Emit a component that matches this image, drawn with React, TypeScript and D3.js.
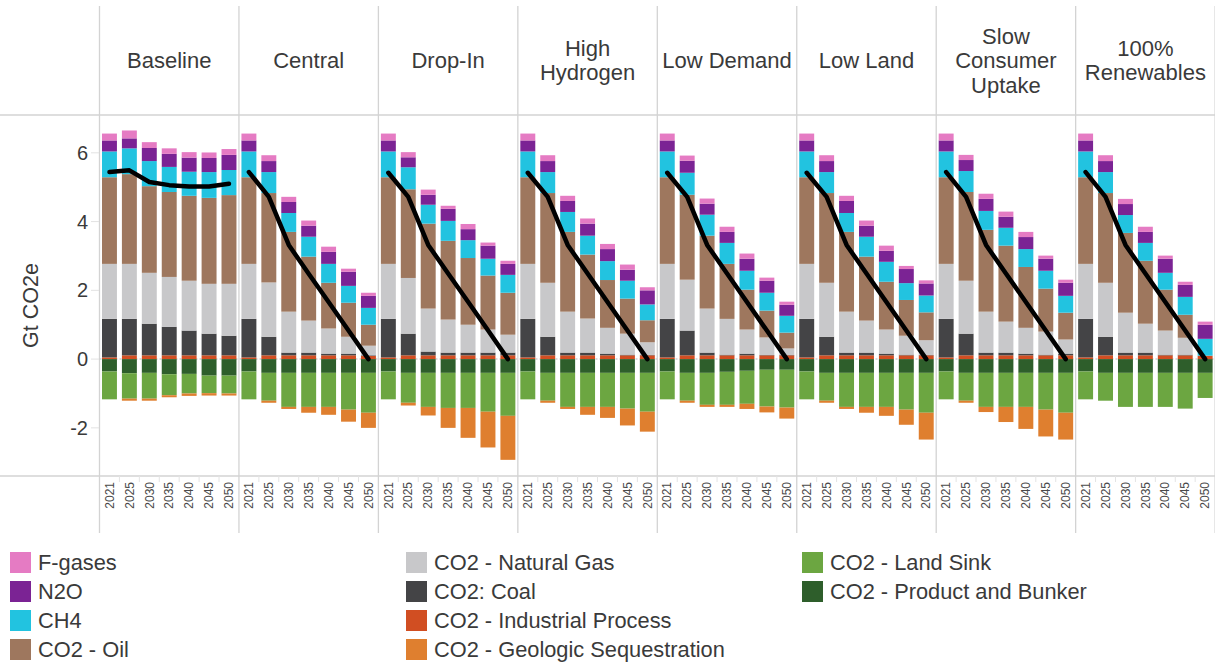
import React from "react";
import * as d3 from "d3";

// ---------- DATA ----------
const scenarios = [
  "Baseline",
  "Central",
  "Drop-In",
  "High Hydrogen",
  "Low Demand",
  "Low Land",
  "Slow Consumer Uptake",
  "100% Renewables",
];
const scenarioHeaderLines = [
  ["Baseline"],
  ["Central"],
  ["Drop-In"],
  ["High", "Hydrogen"],
  ["Low Demand"],
  ["Low Land"],
  ["Slow", "Consumer", "Uptake"],
  ["100%", "Renewables"],
];
const years = ["2021", "2025", "2030", "2035", "2040", "2045", "2050"];
const yTicks = [-2, 0, 2, 4, 6];

// rows = scenarios (in order above), columns = years
const fGases = [
  [0.2, 0.23, 0.17, 0.16, 0.16, 0.16, 0.17],
  [0.2, 0.17, 0.15, 0.15, 0.15, 0.09, 0.09],
  [0.2, 0.15, 0.15, 0.09, 0.15, 0.09, 0.09],
  [0.2, 0.17, 0.15, 0.15, 0.15, 0.15, 0.09],
  [0.2, 0.15, 0.15, 0.15, 0.15, 0.09, 0.09],
  [0.2, 0.17, 0.15, 0.15, 0.15, 0.09, 0.09],
  [0.2, 0.15, 0.15, 0.15, 0.15, 0.09, 0.09],
  [0.2, 0.17, 0.15, 0.15, 0.09, 0.09, 0.09],
];
const n2o = [
  [0.32, 0.29, 0.38, 0.38, 0.41, 0.41, 0.44],
  [0.32, 0.32, 0.32, 0.32, 0.35, 0.41, 0.35],
  [0.32, 0.29, 0.29, 0.35, 0.32, 0.38, 0.32],
  [0.32, 0.32, 0.32, 0.35, 0.35, 0.32, 0.41],
  [0.32, 0.35, 0.32, 0.32, 0.35, 0.35, 0.32],
  [0.32, 0.32, 0.35, 0.32, 0.32, 0.41, 0.35],
  [0.32, 0.32, 0.35, 0.32, 0.35, 0.35, 0.38],
  [0.32, 0.32, 0.32, 0.32, 0.41, 0.35, 0.41],
];
const ch4 = [
  [0.75, 0.75, 0.73, 0.73, 0.7, 0.75, 0.73],
  [0.75, 0.61, 0.55, 0.58, 0.55, 0.49, 0.49],
  [0.75, 0.64, 0.55, 0.58, 0.52, 0.49, 0.52],
  [0.75, 0.61, 0.58, 0.55, 0.55, 0.52, 0.46],
  [0.75, 0.64, 0.61, 0.61, 0.55, 0.52, 0.49],
  [0.75, 0.61, 0.55, 0.58, 0.58, 0.49, 0.49],
  [0.75, 0.61, 0.55, 0.52, 0.52, 0.52, 0.49],
  [0.75, 0.61, 0.52, 0.52, 0.49, 0.52, 0.49],
];
const co2Oil = [
  [2.52, 2.61, 2.52, 2.47, 2.47, 2.5, 2.58],
  [2.52, 2.6, 2.32, 1.86, 1.33, 0.99, 0.61],
  [2.52, 2.58, 2.47, 2.29, 1.94, 1.57, 1.22],
  [2.52, 2.61, 2.32, 1.86, 1.39, 1.02, 0.64],
  [2.52, 2.47, 2.12, 1.6, 1.16, 0.78, 0.46],
  [2.52, 2.61, 2.32, 1.86, 1.39, 1.04, 0.81],
  [2.52, 2.58, 2.38, 2.21, 1.77, 1.25, 0.78],
  [2.52, 2.61, 2.32, 1.83, 1.19, 0.67, 0.0],
];
const co2Gas = [
  [1.6, 1.6, 1.48, 1.45, 1.45, 1.45, 1.51],
  [1.6, 1.58, 1.19, 0.93, 0.73, 0.49, 0.28],
  [1.6, 1.62, 1.25, 0.96, 0.81, 0.67, 0.52],
  [1.6, 1.57, 1.19, 0.99, 0.75, 0.61, 0.37],
  [1.6, 1.48, 1.28, 1.04, 0.7, 0.51, 0.19],
  [1.6, 1.57, 1.19, 0.93, 0.7, 0.55, 0.43],
  [1.6, 1.54, 1.19, 0.9, 0.75, 0.67, 0.41],
  [1.6, 1.57, 1.16, 0.84, 0.7, 0.49, 0.0],
];
const co2Coal = [
  [1.12, 1.06, 0.92, 0.83, 0.72, 0.63, 0.57],
  [1.12, 0.54, 0.08, 0.08, 0.05, 0.05, 0.02],
  [1.12, 0.63, 0.11, 0.08, 0.08, 0.08, 0.08],
  [1.12, 0.54, 0.08, 0.08, 0.05, 0.02, 0.01],
  [1.12, 0.72, 0.08, 0.02, 0.05, 0.01, 0.01],
  [1.12, 0.54, 0.08, 0.08, 0.05, 0.02, 0.01],
  [1.12, 0.63, 0.08, 0.08, 0.05, 0.02, 0.05],
  [1.12, 0.54, 0.08, 0.08, 0.02, 0.02, 0.0],
];
const co2Industrial = [
  [0.05, 0.11, 0.11, 0.11, 0.11, 0.11, 0.11],
  [0.05, 0.11, 0.11, 0.11, 0.11, 0.11, 0.09],
  [0.05, 0.11, 0.11, 0.11, 0.11, 0.11, 0.11],
  [0.05, 0.11, 0.11, 0.11, 0.11, 0.11, 0.11],
  [0.05, 0.11, 0.11, 0.11, 0.11, 0.11, 0.11],
  [0.05, 0.11, 0.11, 0.11, 0.11, 0.11, 0.11],
  [0.05, 0.11, 0.11, 0.11, 0.11, 0.11, 0.11],
  [0.05, 0.11, 0.11, 0.11, 0.11, 0.11, 0.1],
];
const co2ProductBunker = [
  [-0.36, -0.41, -0.4, -0.44, -0.43, -0.48, -0.48],
  [-0.36, -0.4, -0.4, -0.4, -0.4, -0.4, -0.4],
  [-0.36, -0.4, -0.4, -0.4, -0.4, -0.4, -0.4],
  [-0.36, -0.4, -0.4, -0.4, -0.4, -0.4, -0.4],
  [-0.36, -0.4, -0.4, -0.37, -0.34, -0.31, -0.31],
  [-0.36, -0.4, -0.4, -0.4, -0.4, -0.4, -0.4],
  [-0.36, -0.4, -0.4, -0.4, -0.4, -0.4, -0.4],
  [-0.36, -0.4, -0.4, -0.4, -0.4, -0.4, -0.4],
];
const co2LandSink = [
  [-0.81, -0.74, -0.75, -0.61, -0.57, -0.51, -0.52],
  [-0.81, -0.81, -0.99, -0.99, -0.99, -1.07, -1.16],
  [-0.81, -0.87, -0.99, -1.02, -1.02, -1.13, -1.25],
  [-0.81, -0.81, -0.99, -0.99, -0.99, -1.04, -1.13],
  [-0.81, -0.81, -0.93, -0.96, -0.96, -1.07, -1.1],
  [-0.81, -0.81, -0.99, -0.99, -0.99, -1.07, -1.16],
  [-0.81, -0.81, -0.99, -0.99, -0.99, -1.07, -1.16],
  [-0.81, -0.81, -0.99, -0.99, -0.99, -1.04, -0.73],
];
const co2GeoSeq = [
  [0, -0.06, -0.06, -0.06, -0.07, -0.07, -0.06],
  [0, -0.06, -0.06, -0.17, -0.23, -0.35, -0.44],
  [0, -0.08, -0.25, -0.58, -0.87, -1.04, -1.28],
  [0, -0.06, -0.06, -0.23, -0.32, -0.49, -0.58],
  [0, -0.06, -0.06, -0.06, -0.15, -0.17, -0.32],
  [0, -0.06, -0.06, -0.17, -0.26, -0.44, -0.78],
  [0, -0.06, -0.15, -0.44, -0.64, -0.78, -0.78],
  [0, 0, 0, 0, 0, 0, 0],
];
const netTotal = [
  [5.44, 5.49, 5.15, 5.06, 5.02, 5.02, 5.1],
  [5.44, 4.72, 3.32, 2.48, 1.66, 0.83, 0.0],
  [5.42, 4.72, 3.32, 2.49, 1.67, 0.84, 0.0],
  [5.42, 4.72, 3.32, 2.49, 1.66, 0.83, 0.0],
  [5.42, 4.72, 3.32, 2.49, 1.66, 0.83, 0.0],
  [5.42, 4.72, 3.32, 2.49, 1.66, 0.83, 0.0],
  [5.44, 4.72, 3.32, 2.49, 1.66, 0.83, 0.0],
  [5.44, 4.72, 3.32, 2.49, 1.66, 0.83, 0.0],
];

// series: stacking order (bottom→top for positives, top→bottom for negatives)
const seriesKeys = ["ind", "coal", "gas", "oil", "ch4", "n2o", "fgas", "pb", "ls", "gs"];
const seriesData: Record<string, number[][]> = {
  ind: co2Industrial,
  coal: co2Coal,
  gas: co2Gas,
  oil: co2Oil,
  ch4: ch4,
  n2o: n2o,
  fgas: fGases,
  pb: co2ProductBunker,
  ls: co2LandSink,
  gs: co2GeoSeq,
};
const seriesLabels: Record<string, string> = {
  fgas: "F-gases",
  n2o: "N2O",
  ch4: "CH4",
  oil: "CO2 - Oil",
  gas: "CO2 - Natural Gas",
  coal: "CO2: Coal",
  ind: "CO2 - Industrial Process",
  gs: "CO2 - Geologic Sequestration",
  ls: "CO2 - Land Sink",
  pb: "CO2 - Product and Bunker",
};
const seriesColors: Record<string, string> = {
  fgas: "#E57BC3",
  n2o: "#7B2394",
  ch4: "#22C3E0",
  oil: "#9E775E",
  gas: "#C8C8CA",
  coal: "#444446",
  ind: "#D14E22",
  gs: "#DF7F2F",
  ls: "#6CA641",
  pb: "#2E5E2B",
};
const legendColumns = [
  ["fgas", "n2o", "ch4", "oil"],
  ["gas", "coal", "ind", "gs"],
  ["ls", "pb"],
];

// ---------- LAYOUT ----------
const W = 1215;
const H = 667;
const plotLeft = 99.5;
const panelW = 139.45;
const plotTop = 115;
const plotBottom = 476;
const FONT = "'Liberation Sans', Arial, sans-serif";
const GRID = "#d3d3d3";
const TEXT = "#3a3a3a";

export default function App() {
  const x0 = d3
    .scaleBand<string>()
    .domain(scenarios)
    .range([plotLeft, plotLeft + panelW * scenarios.length])
    .padding(0);
  const x1 = d3
    .scaleBand<string>()
    .domain(years)
    .range([0, x0.bandwidth()])
    .paddingInner(0.25)
    .paddingOuter(0.125);
  const y = d3.scaleLinear().domain([-3.4, 7.1]).range([plotBottom, plotTop]);

  const line = d3
    .line<number>()
    .x((_, i) => x1(years[i])! + x1.bandwidth() / 2)
    .y((d) => y(d));

  const stack = d3
    .stack<any>()
    .keys(seriesKeys)
    .order(d3.stackOrderNone)
    .offset(d3.stackOffsetDiverging);

  const panelEdges = d3.range(scenarios.length + 1).map((i) => plotLeft + panelW * i);

  return (
    <svg
      width={W}
      height={H}
      style={{ position: "absolute", left: 0, top: 0, background: "#fff" }}
      fontFamily={FONT}
    >
      <rect x={0} y={0} width={W} height={H} fill="#fff" />
      {/* frame lines */}
      <line x1={0} x2={W} y1={plotTop} y2={plotTop} stroke={GRID} strokeWidth={1.3} />
      <line x1={0} x2={W} y1={plotBottom} y2={plotBottom} stroke={GRID} strokeWidth={1.3} />
      {panelEdges.map((px, i) => (
        <line key={"v" + i} x1={px} x2={px} y1={6} y2={533} stroke={GRID} strokeWidth={1.3} />
      ))}
      {/* zero line */}
      <line
        x1={plotLeft}
        x2={W}
        y1={y(0)}
        y2={y(0)}
        stroke="#cfcfcf"
        strokeWidth={1.5}
        strokeDasharray="2,2"
      />
      {/* y axis */}
      {yTicks.map((t) => (
        <g key={"yt" + t}>
          <line x1={91} x2={99} y1={y(t)} y2={y(t)} stroke="#e2e2e2" strokeWidth={1} />
          <text
            x={88}
            y={y(t)}
            dy="0.35em"
            textAnchor="end"
            fontSize={20}
            fill={TEXT}
          >
            {t}
          </text>
        </g>
      ))}
      <text
        transform={`translate(38,${(plotTop + plotBottom) / 2 + 10}) rotate(-90)`}
        textAnchor="middle"
        fontSize={21.5}
        fill={TEXT}
      >
        Gt CO2e
      </text>

      {scenarios.map((sc, si) => {
        const px = x0(sc)!;
        const rows = years.map((yr, yi) => {
          const r: any = { year: yr };
          seriesKeys.forEach((k) => (r[k] = seriesData[k][si][yi]));
          return r;
        });
        const stacked = stack(rows);
        const lines = scenarioHeaderLines[si];
        return (
          <g key={sc}>
            {/* header */}
            {lines.map((ln, li) => (
              <text
                key={li}
                x={px + panelW / 2}
                y={68 + (li - (lines.length - 1) / 2) * 24.5}
                textAnchor="middle"
                fontSize={22}
                fill={TEXT}
              >
                {ln}
              </text>
            ))}
            <g transform={`translate(${px},0)`}>
              {/* minor x ticks */}
              {years.slice(1).map((yr) => (
                <line
                  key={"xt" + yr}
                  x1={x1(yr)! - (x1.step() - x1.bandwidth()) / 2}
                  x2={x1(yr)! - (x1.step() - x1.bandwidth()) / 2}
                  y1={plotBottom}
                  y2={plotBottom + 6}
                  stroke="#e4e4e4"
                  strokeWidth={1}
                />
              ))}
              {/* bars */}
              {stacked.map((s) => (
                <g key={s.key} fill={seriesColors[s.key]}>
                  {s.map((d, i) => {
                    const top = y(Math.max(d[0], d[1]));
                    const bot = y(Math.min(d[0], d[1]));
                    if (bot - top <= 0) return null;
                    return (
                      <rect
                        key={i}
                        x={x1(years[i])}
                        y={top}
                        width={x1.bandwidth()}
                        height={bot - top}
                      />
                    );
                  })}
                </g>
              ))}
              {/* net line */}
              <path
                d={line(netTotal[si]) || ""}
                fill="none"
                stroke="#000"
                strokeWidth={4.5}
                strokeLinejoin="round"
                strokeLinecap="round"
              />
              {/* year labels */}
              {years.map((yr) => (
                <text
                  key={"yl" + yr}
                  transform={`translate(${x1(yr)! + x1.bandwidth() / 2},${plotBottom + 6}) rotate(-90)`}
                  textAnchor="end"
                  dy="0.35em"
                  fontSize={12}
                  fill="#4a4a4a"
                >
                  {yr}
                </text>
              ))}
            </g>
          </g>
        );
      })}

      {/* legend */}
      {legendColumns.map((col, ci) =>
        col.map((k, ri) => {
          const tx = [38, 434, 830][ci];
          const cy = 562.5 + ri * 29;
          return (
            <g key={k}>
              <rect x={tx - 28} y={cy - 10.5} width={21} height={21} fill={seriesColors[k]} />
              <text x={tx} y={cy} dy="0.35em" fontSize={21.8} fill={TEXT}>
                {seriesLabels[k]}
              </text>
            </g>
          );
        })
      )}
    </svg>
  );
}
